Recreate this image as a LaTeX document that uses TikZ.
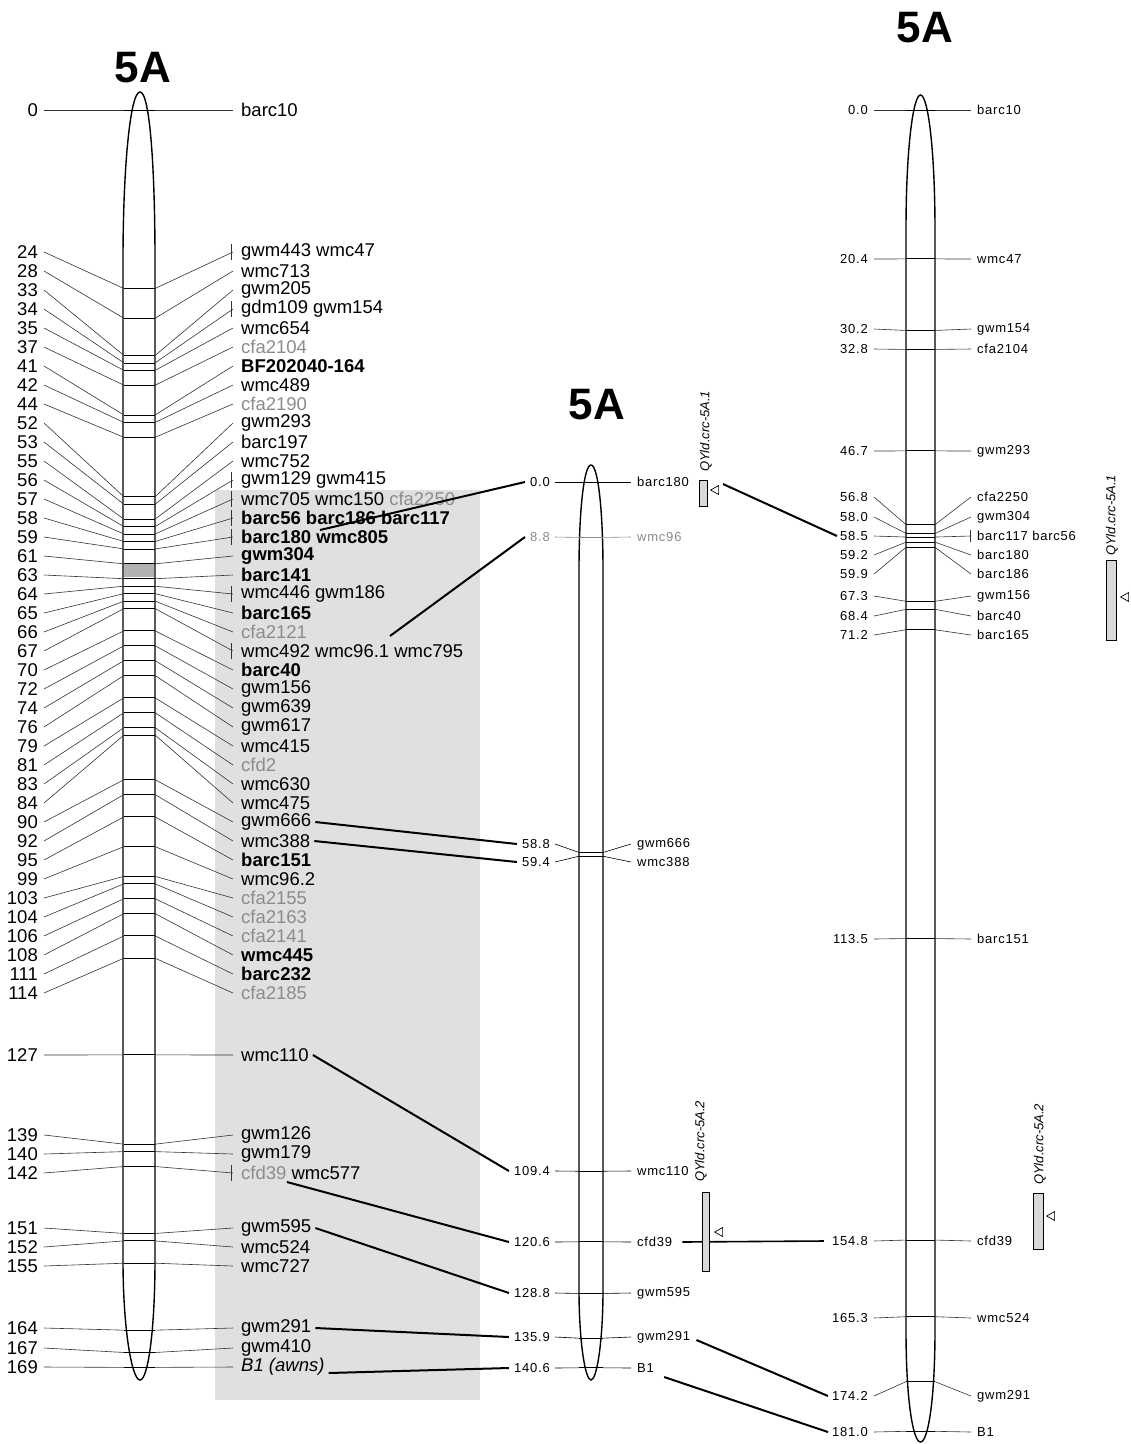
\documentclass[tikz,border=0pt]{standalone}
\usepackage{fontspec}
\setmainfont{Liberation Sans}
\newfontfamily\spfont[LetterSpace=6]{Liberation Sans}
\usetikzlibrary{calc,shapes.geometric}
\newcommand\mkgray[1]{\textcolor{black!45}{#1}}
\newcommand\mkbold[1]{\textbf{#1}}
\begin{document}
\begin{tikzpicture}[x=1pt,y=-1pt,
  lnum/.style={font=\fontsize{18.5}{18.5}\selectfont, inner sep=0, anchor=east},
  lname/.style={font=\fontsize{18.5}{18.5}\selectfont, inner sep=0, anchor=west},
  snum/.style={font=\spfont\fontsize{13}{13}\selectfont, inner sep=0, anchor=east},
  sname/.style={font=\spfont\fontsize{13}{13}\selectfont, inner sep=0, anchor=west},
  thinln/.style={line width=0.6pt, black!80},
  barln/.style={line width=0.9pt, black},
  link/.style={line width=2pt, black},
  chrom/.style={line width=1.4pt, fill=white},
  qtlbar/.style={draw, line width=0.8pt, fill=black!15, inner sep=0},
  qtltxt/.style={font=\fontsize{13}{13}\selectfont\itshape, rotate=90, anchor=west, inner sep=0},
  tri/.style={isosceles triangle, draw, line width=0.7pt, shape border rotate=180, minimum height=8pt, minimum width=9pt, inner sep=0, isosceles triangle stretches},
  title/.style={font=\fontsize{44}{44}\selectfont\bfseries, inner sep=0}]
\useasboundingbox (0,0) rectangle (1131,1444);
\fill[white] (0,0) rectangle (1131,1444);
% shaded background
\fill[black!12] (215,490) rectangle (480,1400);

% titles
\node[title] (t1) at (143,68) {5A};
\node[title] (t2) at (597,405) {5A};
\node[title] (t3) at (925,28) {5A};

% chromosomes
\draw[chrom] (140,92) .. controls (130,92) and (123,170) .. (123,260) -- (123,1260) .. controls (123,1330) and (132,1380) .. (140,1380) .. controls (148,1380) and (155,1330) .. (155,1260) -- (155,260) .. controls (155,170) and (150,92) .. (140,92) -- cycle;
\fill[black!30] (124,564) rectangle (154,577);
\draw[chrom] (591,465) .. controls (584,465) and (579,510) .. (579,570) -- (579,1290) .. controls (579,1340) and (585,1380) .. (591,1380) .. controls (597,1380) and (603,1340) .. (603,1290) -- (603,570) .. controls (603,510) and (598,465) .. (591,465) -- cycle;
\draw[chrom] (920.5,95) .. controls (913,95) and (906,150) .. (906,230) -- (906,1330) .. controls (906,1400) and (913,1442) .. (920.5,1442) .. controls (928,1442) and (935,1400) .. (935,1330) -- (935,230) .. controls (935,150) and (928,95) .. (920.5,95) -- cycle;

% left map
\foreach \cm/\ly/\tk/\txt in {
 0/110/0/barc10, 24/252/1/gwm443 wmc47, 28/271/0/wmc713, 33/290/0/gwm205,
 34/309/1/gdm109 gwm154, 35/328/0/wmc654, 37/347/0/\mkgray{cfa2104},
 41/366/0/\mkbold{BF202040-164}, 42/385/0/wmc489, 44/404/0/\mkgray{cfa2190},
 52/423/0/gwm293, 53/442/0/barc197, 55/461/0/wmc752, 56/480/1/gwm129 gwm415,
 57/499/1/wmc705 wmc150 \mkgray{cfa2250}, 58/518/1/\mkbold{barc56 barc186 barc117},
 59/537/1/\mkbold{barc180 wmc805}, 61/556/0/\mkbold{gwm304}, 63/575/0/\mkbold{barc141},
 64/594/1/wmc446 gwm186, 65/613/0/\mkbold{barc165}, 66/632/0/\mkgray{cfa2121},
 67/651/1/wmc492 wmc96.1 wmc795, 70/670/0/\mkbold{barc40}, 72/689/0/gwm156,
 74/708/0/gwm639, 76/727/0/gwm617, 79/746/0/wmc415, 81/765/0/\mkgray{cfd2},
 83/784/0/wmc630, 84/803/0/wmc475, 90/822/0/gwm666, 92/841/0/wmc388,
 95/860/0/\mkbold{barc151}, 99/879/0/wmc96.2, 103/898/0/\mkgray{cfa2155},
 104/917/0/\mkgray{cfa2163}, 106/936/0/\mkgray{cfa2141}, 108/955/0/\mkbold{wmc445},
 111/974/0/\mkbold{barc232}, 114/993/0/\mkgray{cfa2185}, 127/1055/0/wmc110,
 139/1135/0/gwm126, 140/1154/0/gwm179, 142/1173/1/\mkgray{cfd39} wmc577,
 151/1228/0/gwm595, 152/1247/0/wmc524, 155/1266/0/wmc727, 164/1328/0/gwm291,
 167/1348/0/gwm410, 169/1367/0/{\textit{B1 (awns)}}}
{
  \pgfmathsetmacro\my{110+7.44*\cm}
  \node[lnum] (ln\cm) at (38,\ly) {\cm};
  \node[lname] (lm\cm) at (241,\ly) {\txt};
  \draw[thinln] ([xshift=6pt]ln\cm.east) -- (124,\my);
  \draw[barln] (124,\my) -- (155,\my);
  \draw[thinln] (155,\my) -- ([xshift=-8pt]lm\cm.west);
  \ifnum\tk=1 \draw[thinln] ([xshift=-10pt,yshift=-8pt]lm\cm.west) -- ([xshift=-10pt,yshift=8pt]lm\cm.west); \fi
}

% middle map
\foreach \cm/\ly/\col/\txt [count=\i] in {
 0.0/482/black/barc180, 8.8/537/black!45/wmc96, 58.8/844/black/gwm666,
 59.4/862/black/wmc388, 109.4/1171/black/wmc110, 120.6/1242/black/cfd39,
 128.8/1293/black/gwm595, 135.9/1337/black/gwm291, 140.6/1368/black/B1}
{
  \pgfmathsetmacro\my{482+6.3*\cm}
  \node[snum,text=\col] (mn\i) at (550,\ly) {\cm};
  \node[sname,text=\col] (mm\i) at (637,\ly) {\txt};
  \draw[thinln,\col] ([xshift=5pt]mn\i.east) -- (579,\my);
  \draw[barln,\col] (579,\my) -- (603,\my);
  \draw[thinln,\col] (603,\my) -- ([xshift=-6pt]mm\i.west);
}

% right map
\foreach \cm/\ly/\tk/\txt [count=\i] in {
 0.0/110/0/barc10, 20.4/259/0/wmc47, 30.2/329/0/gwm154, 32.8/349/0/cfa2104,
 46.7/451/0/gwm293, 56.8/497/0/cfa2250, 58.0/517/0/gwm304, 58.5/536/1/barc117 barc56,
 59.2/555/0/barc180, 59.9/574/0/barc186, 67.3/596/0/gwm156, 68.4/616/0/barc40,
 71.2/635/0/barc165, 113.5/939/0/barc151, 154.8/1241/0/cfd39, 165.3/1318/0/wmc524,
 174.2/1396/0/gwm291, 181.0/1432/0/B1}
{
  \pgfmathsetmacro\my{110+7.30*\cm}
  \node[snum] (rn\i) at (868,\ly) {\cm};
  \node[sname] (rm\i) at (977,\ly) {\txt};
  \draw[thinln] ([xshift=6pt]rn\i.east) -- (906,\my);
  \draw[barln] (906,\my) -- (935,\my);
  \draw[thinln] (935,\my) -- ([xshift=-6pt]rm\i.west);
  \ifnum\tk=1 \draw[thinln] ([xshift=-7pt,yshift=-6pt]rm\i.west) -- ([xshift=-7pt,yshift=6pt]rm\i.west); \fi
}

% links left -> middle
\coordinate (c180) at (320,530);
\coordinate (c961) at (390,636);
\coordinate (ccfd) at (287,1182);
\draw[link] (c180) -- ([xshift=-5pt]mn1.west);
\draw[link] (c961) -- ([xshift=-5pt]mn2.west);
\draw[link] ([xshift=4pt]lm90.east) -- ([xshift=-5pt]mn3.west);
\draw[link] ([xshift=4pt]lm92.east) -- ([xshift=-5pt]mn4.west);
\draw[link] ([xshift=4pt]lm127.east) -- ([xshift=-5pt]mn5.west);
\draw[link] (ccfd) -- ([xshift=-5pt]mn6.west);
\draw[link] ([xshift=4pt]lm151.east) -- ([xshift=-5pt]mn7.west);
\draw[link] ([xshift=4pt]lm164.east) -- ([xshift=-5pt]mn8.west);
\draw[link] ([xshift=4pt,yshift=-6pt]lm169.east) -- ([xshift=-5pt]mn9.west);

% links middle -> right
\coordinate (q1out) at (723,484);
\draw[link] (q1out) -- ([xshift=-3pt]rn8.west);
\draw[line width=1.6pt] ([xshift=10pt]mm6.east) -- ([xshift=-8pt]rn15.west);
\draw[link] ([xshift=6pt,yshift=-3pt]mm8.east) -- ([xshift=-4pt]rn17.west);
\draw[link] ([xshift=10pt,yshift=-9pt]mm9.east) -- ([xshift=-4pt]rn18.west);

% QTL middle
\node[qtltxt] (q1t) at (706,472) {QYld.crc-5A.1};
\node[qtlbar, minimum width=8pt, minimum height=26pt] (q1b) at (703,493) {};
\node[tri] (q1a) at (716,490) {};
\node[qtltxt] (q2t) at (701,1182) {QYld.crc-5A.2};
\node[qtlbar, minimum width=7pt, minimum height=79pt] (q2b) at (706,1232) {};
\node[tri] (q2a) at (720,1232) {};

% QTL right
\node[qtltxt] (q3t) at (1112,556) {QYld.crc-5A.1};
\node[qtlbar, minimum width=10pt, minimum height=80pt] (q3b) at (1111,600) {};
\node[tri] (q3a) at (1126,597) {};
\node[qtltxt] (q4t) at (1040,1185) {QYld.crc-5A.2};
\node[qtlbar, minimum width=10pt, minimum height=56pt] (q4b) at (1038,1221) {};
\node[tri] (q4a) at (1052,1216) {};
\end{tikzpicture}
\end{document}
